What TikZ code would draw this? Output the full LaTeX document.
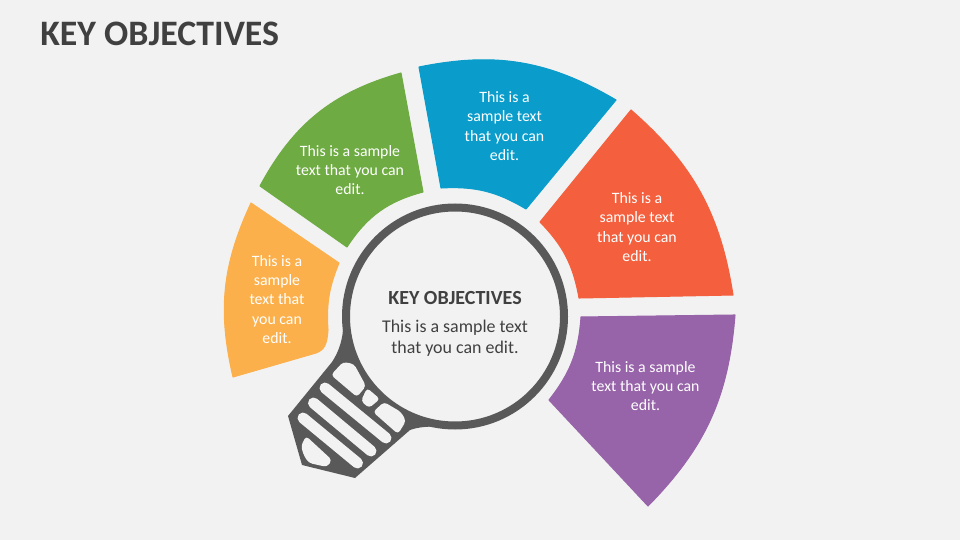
\documentclass[tikz,border=0pt]{standalone}
\usepackage{fontspec}
\setmainfont{Carlito}
\definecolor{pagegray}{HTML}{F2F2F2}
\definecolor{darkgray}{HTML}{595959}
\definecolor{textgray}{HTML}{404040}
\definecolor{segyellow}{HTML}{FBB04C}
\definecolor{seggreen}{HTML}{6EAB43}
\definecolor{segblue}{HTML}{0A9DCB}
\definecolor{segorange}{HTML}{F4603D}
\definecolor{segpurple}{HTML}{9763A9}
\usetikzlibrary{positioning}
\tikzset{
	segment/.style = {line width=0.6pt, line join=round},
	segtext/.style = {font=\fontsize{9}{10.9}\selectfont, text=white, align=center},
	stripe/.style = {line width=0.22cm, line cap=round, color=pagegray},
	hole/.style = {fill=pagegray, rounded corners=2pt}
}

\begin{document}
\begin{tikzpicture}[x=0.02cm, y=-0.02cm]
	\useasboundingbox[fill=pagegray] (0,0) rectangle (960,540);
	\node[font=\fontsize{20.4}{24}\selectfont\bfseries, text=textgray, anchor=west, inner sep=0pt] at (40,34) (title) {KEY OBJECTIVES};

	\draw[segment, draw=segyellow, fill=segyellow] (233,377) to[bend left=19] (251,203) -- (339,263) to[bend right=13] (328,330) .. controls (327,345) and (324,350) .. (316,353) -- cycle;
	\draw[segment, draw=seggreen, fill=seggreen] (260,186) to[bend left=23] (401,73) -- (423,192) to[bend right=21] (347,247) -- cycle;
	\draw[segment, draw=segblue, fill=segblue] (419,67) to[bend left=21] (616,100) -- (526,209) to[bend right=17] (441,188) -- cycle;
	\draw[segment, draw=segorange, fill=segorange] (631,110) to[bend left=20] (733,295) -- (579,298) to[bend right=17] (540,222) -- cycle;
	\draw[segment, draw=segpurple, fill=segpurple] (735,315) to[bend left=20] (648,506) -- (549,400) to[bend right=17] (581,317) -- cycle;

	\fill[darkgray] (343,330) .. controls (342,342) and (338,353) .. (332,362) -- (288,416) -- (302,465) -- (355,478) -- (410,430) .. controls (418,427) and (430,426) .. (440,427) -- (455,316) -- cycle;
	\draw[line width=0.16cm, draw=darkgray, fill=pagegray] (455,316.5) circle (109);
	\fill[hole] (331,375) -- (343,362) -- (354,364) -- (366,386) -- (357,397) -- cycle;
	\fill[hole] (361,401) -- (367,388) -- (380,399) -- (369,408) -- cycle;
	\fill[hole] (373,412) -- (384,402) -- (401,412) -- (406,421) -- (398,434) -- cycle;
	\draw[stripe] (325,388) -- (386,438);
	\draw[stripe] (313.5,403) -- (371,451);
	\draw[stripe] (303,418) -- (357.5,463);
	\fill[hole] (301,446) -- (306,436) -- (332,460) -- (327,467) -- (309,463) -- (304,456) -- cycle;

	\node[font=\fontsize{11.4}{13}\selectfont\bfseries, text=textgray] at (455,298) (keyhead) {KEY OBJECTIVES};
	\node[font=\fontsize{10.2}{12}\selectfont, text=textgray, align=center] at (455,338.5) (keytext) {This is a sample text\\that you can edit.};

	\node[segtext] at (277,299.5) (yellowtext) {This is a\\sample\\text that\\you can\\edit.};
	\node[segtext] at (350,170) (greentext) {This is a sample\\text that you can\\edit.};
	\node[segtext] at (504.5,126) (bluetext) {This is a\\sample text\\that you can\\edit.};
	\node[segtext] at (637,227) (orangetext) {This is a\\sample text\\that you can\\edit.};
	\node[segtext] at (645.5,386) (purpletext) {This is a sample\\text that you can\\edit.};
\end{tikzpicture}
\end{document}
